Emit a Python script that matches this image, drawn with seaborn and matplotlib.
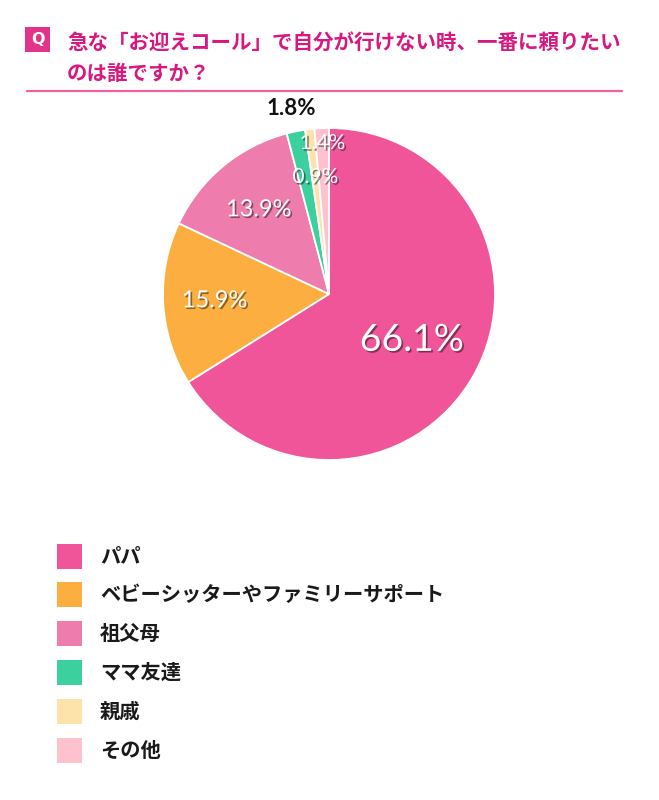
import matplotlib
matplotlib.use("Agg")
import matplotlib.pyplot as plt
import matplotlib.patheffects as pe
from matplotlib.patches import Rectangle, FancyBboxPatch
import numpy as np
import seaborn as sns

# ---- data ----
categories = ["パパ", "ベビーシッターやファミリーサポート", "祖父母", "ママ友達", "親戚", "その他"]
values = [66.1, 15.9, 13.9, 1.8, 0.9, 1.4]
pct_labels = ["66.1%", "15.9%", "13.9%", "1.8%", "0.9%", "1.4%"]
colors = ["#F0559A", "#FCAF40", "#EE7DAD", "#3BD09E", "#FDE3AA", "#FEC1CE"]
title_lines = ["急な「お迎えコール」で自分が行けない時、一番に頼りたい", "のは誰ですか？"]

# label styling (distance from centre as fraction of radius, font size, colour)
label_dist = [0.57, 0.69, 0.66, 1.14, 0.71, 0.91]
label_size = [27, 17, 17, 16, 15, 15]
label_color = ["white", "white", "white", "#111111", "white", "white"]

sns.set_theme(style="white")
plt.rcParams['font.family'] = ['Noto Sans CJK JP', 'DejaVu Sans']

W, H = 659, 800
fig = plt.figure(figsize=(W / 100, H / 100), dpi=100)
fig.patch.set_facecolor("white")

def fx(px):
    return px / W

def fy(py):
    return 1 - py / H

# ---- title ----
title_color = "#D8187F"
qbox = FancyBboxPatch((fx(25), fy(52)), fx(50) - fx(25), fy(27) - fy(52),
                      boxstyle="square,pad=0", transform=fig.transFigure,
                      facecolor="#E2348B", edgecolor="none")
fig.patches.append(qbox)
fig.text(fx(37.5), fy(39.5), "Q", color="white", fontsize=11.5, fontweight="bold",
         ha="center", va="center", family=["DejaVu Sans"])
fig.text(fx(67), fy(42), title_lines[0], color=title_color, fontsize=14.75,
         fontweight="bold", ha="left", va="center")
fig.text(fx(67), fy(74), title_lines[1], color=title_color, fontsize=14.75,
         fontweight="bold", ha="left", va="center")
fig.add_artist(plt.Line2D([fx(27), fx(622)], [fy(90.5), fy(90.5)], color="#F0609F",
                          lw=1.6, transform=fig.transFigure))

# ---- pie ----
cx, cy, R = 329, 294, 166
ax = fig.add_axes([fx(cx - R), fy(cy + R), 2 * R / W, 2 * R / H])
wedges, _ = ax.pie(values, colors=colors, startangle=90, counterclock=False,
                   radius=1.0, wedgeprops=dict(edgecolor="white", linewidth=1.3))
ax.set_xlim(-1, 1)
ax.set_ylim(-1, 1)
ax.set_aspect("equal")
ax.axis("off")

shadow = [pe.SimplePatchShadow(offset=(1.2, -1.2), shadow_rgbFace="black", alpha=0.45), pe.Normal()]
total = sum(values)
cum = 0.0
for v, lab, d, fs, col in zip(values, pct_labels, label_dist, label_size, label_color):
    mid = 90 - 360 * (cum + v / 2) / total
    cum += v
    x = d * np.cos(np.radians(mid))
    y = d * np.sin(np.radians(mid))
    effects = shadow if col == "white" else None
    ax.text(x, y, lab, ha="center", va="center", fontsize=fs, color=col,
            family=["Lato", "DejaVu Sans"],
            fontweight="bold" if col != "white" else "normal",
            path_effects=effects, clip_on=False)

# ---- legend ----
row0, step = 556, 38.8
for i, (cat, col) in enumerate(zip(categories, colors)):
    yc = row0 + i * step
    fig.patches.append(Rectangle((fx(57), fy(yc + 12.5)), fx(82) - fx(57), fy(yc - 12.5) - fy(yc + 12.5),
                                 transform=fig.transFigure, facecolor=col, edgecolor="none"))
    fig.text(fx(100), fy(yc), cat, fontsize=14.6, fontweight="bold", color="#1a1a1a",
             ha="left", va="center")

fig.savefig("out.png", dpi=100, facecolor="white")
